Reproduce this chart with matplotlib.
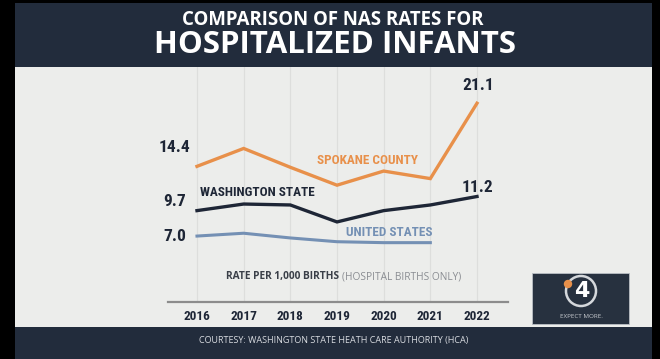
"""
NAS rates for hospitalized infants - broadcast style line chart
"""

import matplotlib
matplotlib.use("Agg")
import matplotlib.pyplot as plt
from matplotlib import font_manager
from matplotlib.patches import Rectangle, Ellipse

# data (rate per 1,000 births)
years = [2016, 2017, 2018, 2019, 2020, 2021, 2022]
spokane = [14.4, 16.3, 14.3, 12.4, 13.9, 13.1, 21.1]
washington = [9.7, 10.4, 10.3, 8.5, 9.7, 10.3, 11.2]
us_years = [2016, 2017, 2018, 2019, 2020, 2021]
united_states = [7.0, 7.3, 6.8, 6.4, 6.3, 6.3]

NAVY = "#222c3c"
PANEL = "#ecedeb"
ORANGE = "#e8904a"
DARK = "#1e2636"
STEEL = "#7490b4"

# pick a condensed face if one is around, else plain DejaVu
_installed = {f.name for f in font_manager.fontManager.ttflist}
_cands = ["Roboto Condensed", "Archivo Narrow", "Barlow Condensed",
          "PT Sans Narrow", "Oswald", "Liberation Sans Narrow"]
COND = [n for n in _cands if n in _installed][:1] + ["DejaVu Sans"]

W, H = 660, 359
fig = plt.figure(figsize=(W / 100, H / 100), dpi=100)
fig.patch.set_facecolor("black")


def px(x, y):
    """pixel coords (from top-left) -> figure fraction"""
    return x / W, 1 - y / H


def box(x0, y0, x1, y1, color, z=-2, **kw):
    fx, fy = px(x0, y1)
    fig.patches.append(Rectangle((fx, fy), (x1 - x0) / W, (y1 - y0) / H,
                                 transform=fig.transFigure, facecolor=color,
                                 zorder=z, **kw))


def ring(x, y, r, z, **kw):
    fig.patches.append(Ellipse(px(x, y), 2 * r / W, 2 * r / H,
                               transform=fig.transFigure, zorder=z, **kw))


# frame: header, panel, footer
box(15, 3, 652, 67, NAVY)
box(15, 67, 652, 327, PANEL)
box(15, 327, 652, 359, NAVY)

fig.text(*px(333, 20), "COMPARISON OF NAS RATES FOR", color="white",
         fontsize=13.4, fontweight="bold", family="Open Sans",
         ha="center", va="center")
fig.text(*px(335, 45), "HOSPITALIZED INFANTS", color="white",
         fontsize=22.5, fontweight="bold", family="Open Sans",
         ha="center", va="center")
fig.text(*px(334, 340), "COURTESY: WASHINGTON STATE HEATH CARE AUTHORITY (HCA)",
         color="#d8dbe0", fontsize=6.5, family="Open Sans",
         ha="center", va="center")

# main axes: x from 168px to 508px, y from 302px (zero) up to the panel top
ax_l, ax_b = px(168, 302)
ax = fig.add_axes([ax_l, ax_b, 340 / W, 235 / H])
ax.set_zorder(1)
ax.set_facecolor("none")
ax.set_xlim(2015.379, 2022.664)
ax.set_ylim(0, 235 / 9.42)

for s in ["top", "right", "left"]:
    ax.spines[s].set_visible(False)
ax.spines["bottom"].set_color("#8c8c8c")
ax.spines["bottom"].set_linewidth(1.6)
ax.set_yticks([])
ax.set_xticks(years)
ax.set_xticklabels([str(y) for y in years], family=COND, fontweight="bold",
                   fontsize=9.5, color=DARK)
ax.tick_params(axis="x", length=0, pad=6)
ax.grid(axis="x", color="#dddedc", linewidth=0.9)

ax.plot(years, spokane, color=ORANGE, linewidth=2.4, solid_joinstyle="miter")
ax.plot(years, washington, color=DARK, linewidth=2.4, solid_joinstyle="miter")
ax.plot(us_years, united_states, color=STEEL, linewidth=2.2,
        solid_joinstyle="miter")

num = dict(family=COND, fontweight="bold", fontsize=12.5, color=DARK,
           ha="center", va="center")
ax.annotate(f"{spokane[0]:.1f}", (years[0], spokane[0]), xytext=(-22, 19),
            textcoords="offset pixels", **num)
ax.annotate(f"{washington[0]:.1f}", (years[0], washington[0]), xytext=(-22, 9),
            textcoords="offset pixels", **num)
ax.annotate(f"{united_states[0]:.1f}", (years[0], united_states[0]),
            xytext=(-22, 0), textcoords="offset pixels", **num)
ax.annotate(f"{spokane[-1]:.1f}", (years[-1], spokane[-1]), xytext=(1, 18),
            textcoords="offset pixels", **num)
ax.annotate(f"{washington[-1]:.1f}", (years[-1], washington[-1]),
            xytext=(0, 9), textcoords="offset pixels", **num)

lab = dict(family=COND, fontweight="bold", fontsize=9.5, ha="center",
           va="center")
ax.text(2019.65, spokane[3] + 2.6, "SPOKANE COUNTY", color=ORANGE, **lab)
ax.text(2017.3, washington[0] + 1.95, "WASHINGTON STATE", color=DARK, **lab)
ax.text(2020.12, united_states[0] + 0.4, "UNITED STATES", color=STEEL, **lab)

# unit note
fig.text(*px(342, 277), "RATE PER 1,000 BIRTHS ", color="#3a3f48",
         fontsize=7.3, fontweight="bold", family="Open Sans",
         ha="right", va="center")
fig.text(*px(342, 277), "(HOSPITAL BIRTHS ONLY)", color="#8a8d92",
         fontsize=7.3, family="Open Sans", ha="left", va="center")

# station logo
box(532, 273, 629, 324, "#27313f", z=2, edgecolor="#b9bec5", linewidth=0.6)
ring(581, 291, 15, 3, facecolor="none", edgecolor="#d5d8dc", linewidth=1.8)
fig.text(*px(582, 291), "4", color="white", fontsize=16, fontweight="bold",
         family="DejaVu Sans", ha="center", va="center", zorder=4)
ring(568, 284, 3.5, 5, color=ORANGE)
fig.text(*px(581, 316), "EXPECT MORE.", color="#c9ccd1", fontsize=4.5,
         family="Open Sans", ha="center", va="center", zorder=4)

fig.savefig("out.png", dpi=100, facecolor=fig.get_facecolor())
